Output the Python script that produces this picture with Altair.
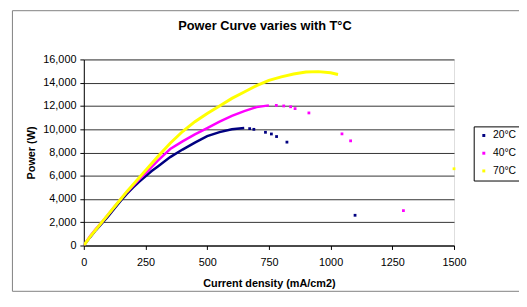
import altair as alt
import pandas as pd

series_names = ["20°C", "40°C", "70°C"]
colors = ["#000080", "#FF00FF", "#FFFF00"]

navy_curve_x = [0, 25, 50, 75, 100, 125, 150, 175, 200, 225, 250, 275, 300, 350, 400, 450, 500, 550, 600, 650]
navy_curve_y = [0, 700, 1350, 1950, 2550, 3200, 3850, 4450, 5000, 5500, 5950, 6400, 6800, 7600, 8250, 8850, 9400, 9750, 10000, 10100]
navy_dots_x = [672, 689, 736, 760, 781, 823, 1099]
navy_dots_y = [10050, 9990, 9735, 9590, 9370, 8890, 2600]

mag_curve_x = [0, 25, 50, 75, 100, 125, 150, 175, 200, 225, 250, 275, 300, 350, 400, 450, 500, 550, 600, 650, 700, 750]
mag_curve_y = [0, 800, 1450, 2050, 2700, 3350, 4000, 4600, 5150, 5700, 6200, 6750, 7300, 8300, 8950, 9550, 10100, 10650, 11150, 11550, 11900, 12050]
mag_dots_x = [780, 810, 838, 856, 912, 1046, 1081, 1295]
mag_dots_y = [12050, 12000, 11930, 11770, 11400, 9600, 9000, 3000]

yel_curve_x = [0, 25, 50, 75, 100, 125, 150, 175, 200, 225, 250, 275, 300, 350, 400, 450, 500, 550, 600, 650, 700, 750, 800, 850, 900, 950, 1000, 1030]
yel_curve_y = [0, 750, 1400, 2050, 2700, 3350, 4000, 4650, 5250, 5850, 6450, 7050, 7650, 8800, 9800, 10650, 11350, 12000, 12650, 13200, 13750, 14200, 14500, 14750, 14920, 14950, 14850, 14700]
yel_dots_x = [1500]
yel_dots_y = [6600]

x_ticks = [0, 250, 500, 750, 1000, 1250, 1500]
y_ticks = [0, 2000, 4000, 6000, 8000, 10000, 12000, 14000, 16000]

curves = [(navy_curve_x, navy_curve_y), (mag_curve_x, mag_curve_y), (yel_curve_x, yel_curve_y)]
dots_src = [(navy_dots_x, navy_dots_y), (mag_dots_x, mag_dots_y), (yel_dots_x, yel_dots_y)]

rows_dots = []
for name, (xs, ys) in zip(series_names, dots_src):
    for a, b in zip(xs, ys):
        rows_dots.append({"series": name, "x": a, "y": b})
dots_df = pd.DataFrame(rows_dots)

FONT = "Liberation Sans"

xscale = alt.Scale(domain=[0, 1500], nice=False, zero=True)
yscale = alt.Scale(domain=[0, 16000], nice=False)
cscale = alt.Scale(domain=series_names, range=colors)

xaxis = alt.Axis(values=x_ticks, format="d", title="Current density (mA/cm2)",
                 grid=False, tickSize=4, tickColor="#000000", domainColor="#000000",
                 labelFontSize=11, labelFont=FONT, labelColor="#000000", labelPadding=7,
                 titleFont=FONT, titleFontSize=11, titleFontWeight="bold", titleColor="#000000",
                 titlePadding=11, labelFlush=False, labelOverlap=False)
yaxis = alt.Axis(values=y_ticks, format=",d", title="Power (W)",
                 grid=True, gridColor="#333333", gridWidth=1,
                 tickSize=4, tickColor="#000000", domainColor="#000000",
                 labelFontSize=11, labelFont=FONT, labelColor="#000000", labelPadding=4,
                 titleFont=FONT, titleFontSize=11, titleFontWeight="bold", titleColor="#000000",
                 titlePadding=6, labelOverlap=False)

frame_df = pd.DataFrame({"a": [0]})
top_rule = alt.Chart(frame_df).mark_rule(color="#808080", strokeWidth=1).encode(
    x=alt.value(-72.5), x2=alt.value(470), y=alt.value(-49.5))
left_rule = alt.Chart(frame_df).mark_rule(color="#808080", strokeWidth=1).encode(
    x=alt.value(-72.5), y=alt.value(-49.5), y2=alt.value(235.5))
bottom_rule = alt.Chart(frame_df).mark_rule(color="#808080", strokeWidth=1).encode(
    x=alt.value(-72.5), x2=alt.value(470), y=alt.value(235.5))

line_layers = []
widths = [2.5, 2.5, 3]
for name, col, w, (xs, ys) in zip(series_names, colors, widths, curves):
    df = pd.DataFrame({"x": xs, "y": ys, "o": list(range(len(xs)))})
    line_layers.append(
        alt.Chart(df).mark_line(color=col, strokeWidth=w, clip=True).encode(
            x=alt.X("x:Q", scale=xscale, axis=xaxis),
            y=alt.Y("y:Q", scale=yscale, axis=yaxis),
            order="o:Q",
        )
    )

dots = alt.Chart(dots_df).mark_square(size=8, opacity=1, clip=False).encode(
    x=alt.X("x:Q", scale=xscale, axis=xaxis),
    y=alt.Y("y:Q", scale=yscale, axis=yaxis),
    color=alt.Color("series:N", scale=cscale,
                    legend=alt.Legend(title=None, orient="none", legendX=396, legendY=68,
                                      symbolType="square", symbolSize=9, symbolOffset=1,
                                      labelFont=FONT, labelFontSize=10.5, labelColor="#000000",
                                      labelOffset=4, rowPadding=7, padding=4,
                                      strokeColor="#000000", fillColor="#FFFFFF",
                                      symbolStrokeWidth=0)),
)

chart = alt.layer(top_rule, left_rule, bottom_rule, *line_layers, dots).properties(
    width=376, height=189,
    title=alt.TitleParams("Power Curve varies with T°C", font=FONT, fontSize=13,
                          fontWeight="bold", color="#000000", offset=0, dy=23,
                          dx=-4, anchor="middle", frame="group"),
    autosize=alt.AutoSizeParams(type="none"),
    padding={"left": 77, "top": 50, "right": 66, "bottom": 47},
).configure_view(
    fill="#C0C0C0", stroke="#808080", strokeWidth=1
).configure(background="#FFFFFF")

chart.save("out.html", embed_options={"renderer": "svg", "actions": False})
